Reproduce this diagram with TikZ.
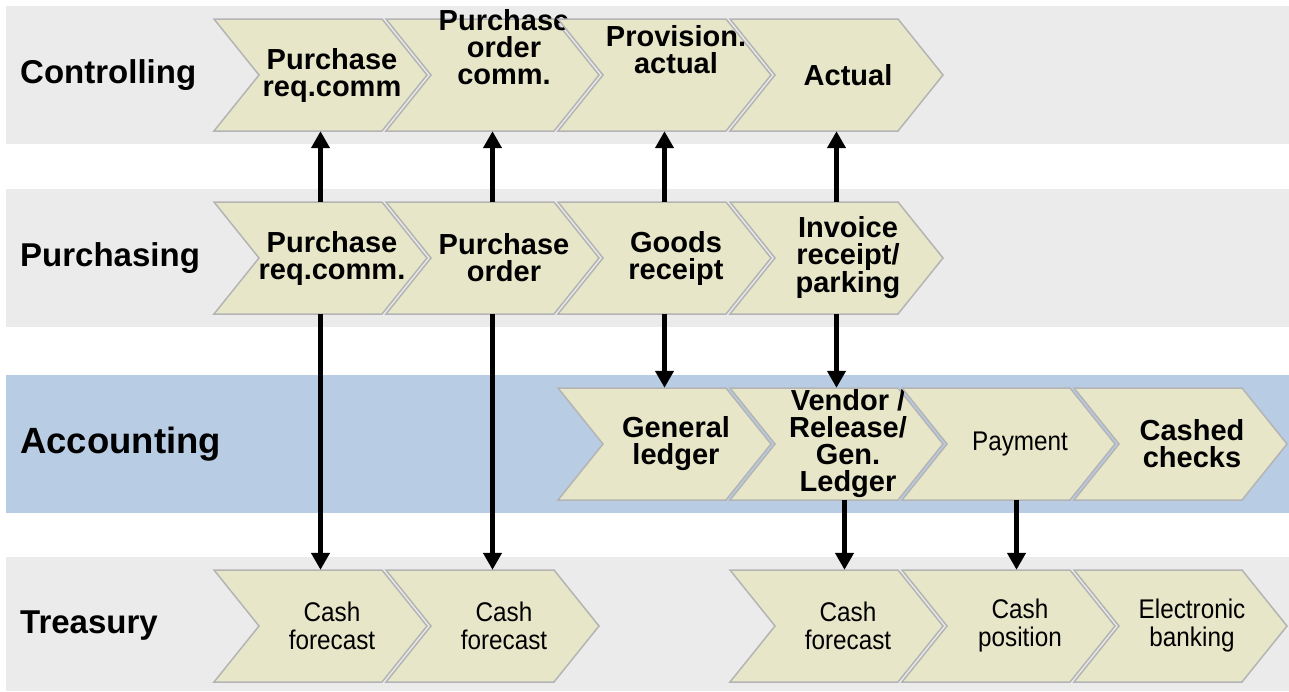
\documentclass[tikz,border=0pt]{standalone}
\usepackage{fontspec}
\setmainfont{Liberation Sans}
\newfontfamily\narrowfont[FakeStretch=0.9]{Liberation Sans}
\usepackage{tikz}
\usetikzlibrary{arrows.meta}
\definecolor{bandgray}{HTML}{EBEBEB}
\definecolor{bandblue}{HTML}{B8CCE4}
\definecolor{chevfill}{HTML}{E7E6C9}
\definecolor{chevline}{HTML}{B4B4B4}
\tikzset{
  rowlabel/.style={anchor=west, inner sep=0pt, font=\fontsize{33}{35}\selectfont\bfseries},
  chevron/.style={fill=chevfill, draw=chevline, line width=1.5pt},
  chevbox/.style={minimum width=213pt, minimum height=112pt, inner sep=0pt},
  chevtext/.style={align=center, inner sep=0pt, xshift=11.5pt, font=\fontsize{29}{27}\selectfont\bfseries},
  thintext/.style={font=\narrowfont\fontsize{27}{28}\selectfont},
  flow/.style={-{Triangle[width=18pt,length=17pt]}, line width=4.5pt}
}
\newcommand{\chev}[5][]{%
  \filldraw[chevron] (#3-106.5,#4-56) -- ++(168,0) -- ++(45,56) -- ++(-45,56) -- ++(-168,0) -- ++(45,-56) -- cycle;
  \node[chevbox, label={[chevtext,#1,name=#2t]center:#5}] (#2) at (#3,#4) {};
}
\begin{document}
\begin{tikzpicture}[x=1pt,y=-1pt]
\useasboundingbox (0,0) rectangle (1289,691);
\fill[bandgray] (6,6) rectangle (1289,144);
\fill[bandgray] (6,189) rectangle (1289,327);
\fill[bandblue] (6,375) rectangle (1289,513);
\fill[bandgray] (6,557) rectangle (1289,691);

\node[rowlabel] (ctl) at (20,75) {Controlling};
\node[rowlabel] (pur) at (20,258) {Purchasing};
\node[rowlabel, font=\fontsize{36.5}{38}\selectfont\bfseries] (acc) at (20,444) {Accounting};
\node[rowlabel] (trs) at (20,626) {Treasury};

\chev{ctl1}{320.5}{75}{Purchase\\req.comm}
\chev[yshift=28pt]{ctl2}{492.5}{75}{Purchase\\order\\comm.}
\chev[yshift=25pt]{ctl3}{664.5}{75}{Provision.\\actual}
\chev{ctl4}{836.5}{75}{Actual}

\chev{pur1}{320.5}{258}{Purchase\\req.comm.}
\chev{pur2}{492.5}{258}{Purchase\\order}
\chev{pur3}{664.5}{258}{Goods\\receipt}
\chev{pur4}{836.5}{258}{Invoice\\receipt/\\parking}

\chev{acc3}{664.5}{444}{General\\ledger}
\chev{acc4}{836.5}{444}{Vendor /\\Release/\\Gen.\\Ledger}
\chev[thintext]{acc5}{1008.5}{444}{Payment}
\chev{acc6}{1180.5}{444}{Cashed\\checks}

\chev[thintext]{trs1}{320.5}{626}{Cash\\forecast}
\chev[thintext]{trs2}{492.5}{626}{Cash\\forecast}
\chev[thintext]{trs4}{836.5}{626}{Cash\\forecast}
\chev[thintext]{trs5}{1008.5}{626}{Cash\\position}
\chev[thintext]{trs6}{1180.5}{626}{Electronic\\banking}

\draw[flow] (pur1) -- (ctl1);
\draw[flow] (pur2) -- (ctl2);
\draw[flow] (pur3) -- (ctl3);
\draw[flow] (pur4) -- (ctl4);
\draw[flow] (pur3) -- (acc3);
\draw[flow] (pur4) -- (acc4);
\draw[flow] (pur1) -- (trs1);
\draw[flow] (pur2) -- (trs2);
\draw[flow] ([xshift=8pt]acc4.south) -- ([xshift=8pt]trs4.north);
\draw[flow] ([xshift=8pt]acc5.south) -- ([xshift=8pt]trs5.north);
\end{tikzpicture}
\end{document}
